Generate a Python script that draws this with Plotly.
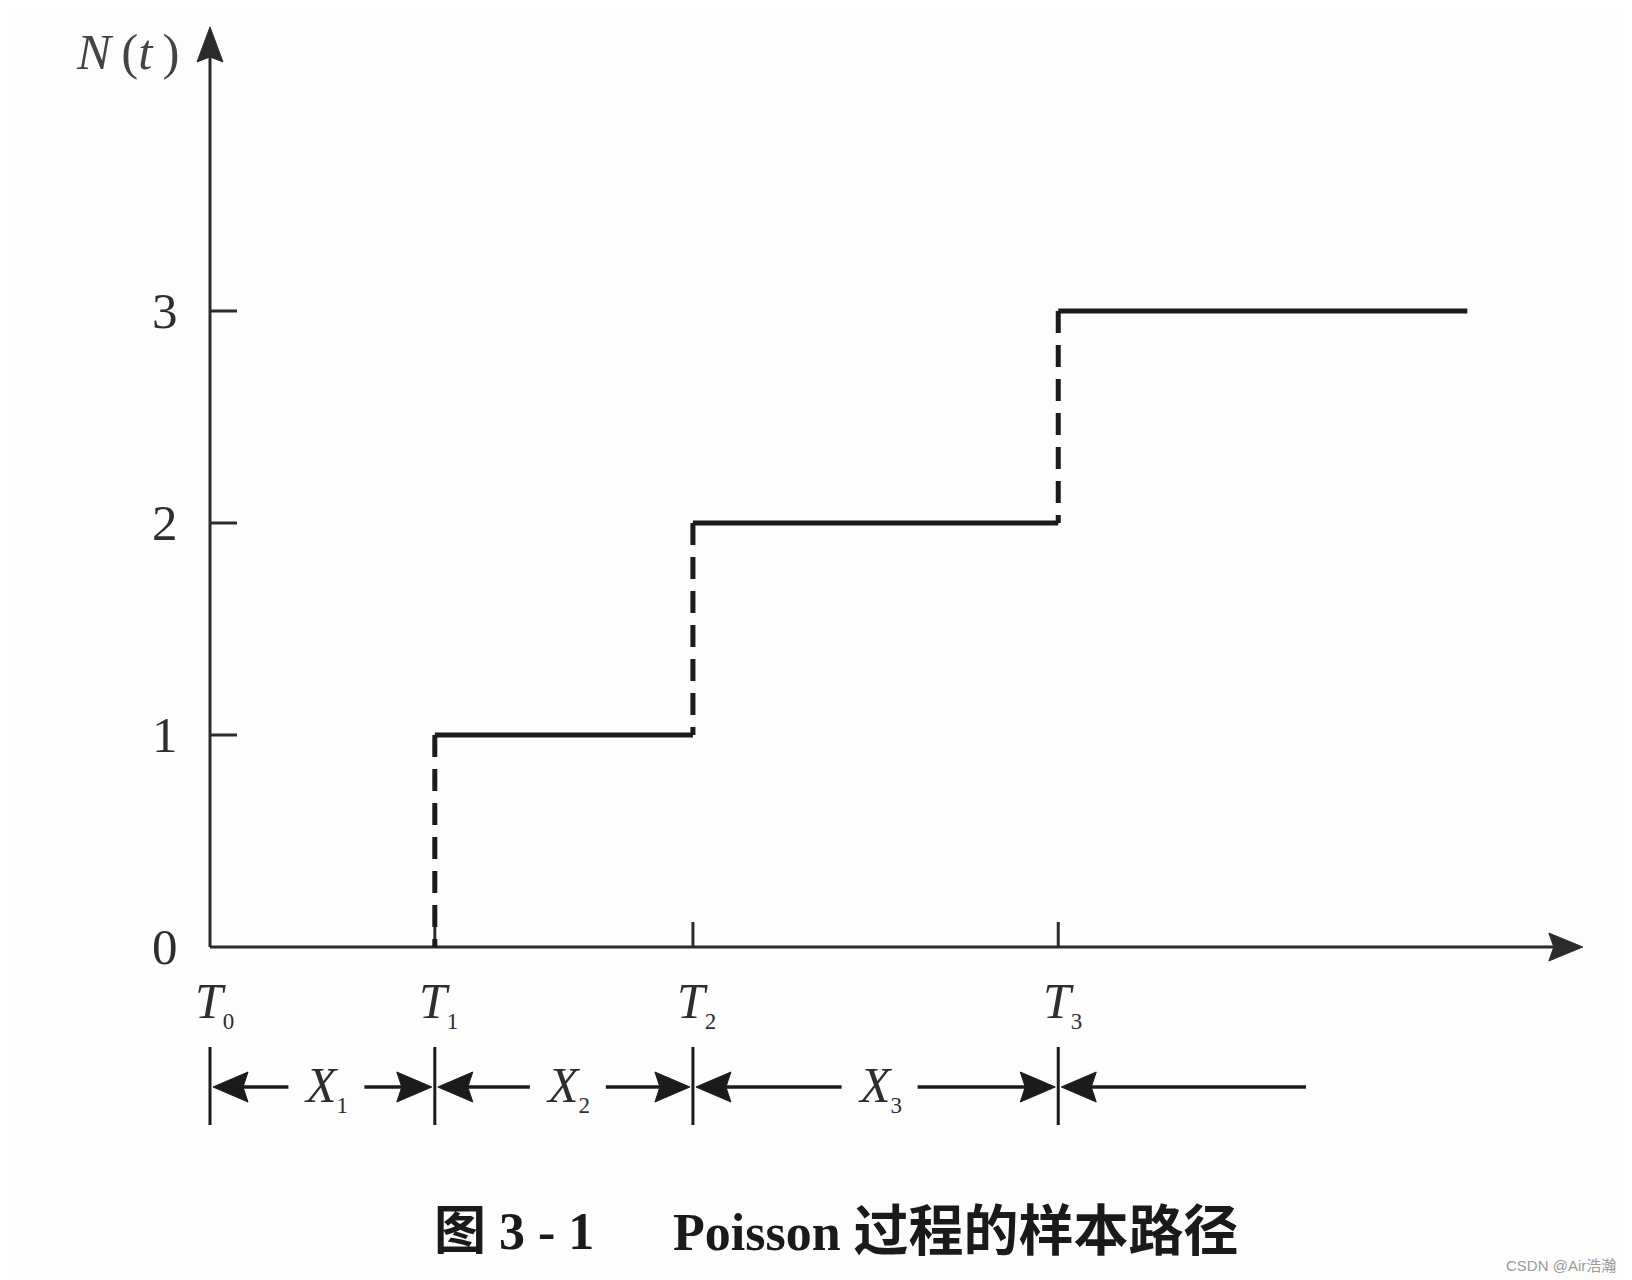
import plotly.graph_objects as go

# ---------------- data ----------------
event_times = [0.0, 2.16, 4.64, 8.15]      # T0, T1, T2, T3
counts = [0, 1, 2, 3]                       # N(t) right after each event
path_end = 12.08                            # where the sample path stops
x_axis_end = 13.19                          # tip of the time axis
y_axis_end = 4.34                           # tip of the N(t) axis
y_tick_values = [0, 1, 2, 3]
y_tick_labels = ["0", "1", "2", "3"]
event_subs = ["0", "1", "2", "3"]           # T subscripts
interval_subs = ["1", "2", "3"]             # X subscripts
tail_end = 10.53                            # open interval after T3

# ---------------- geometry (pixel <-> data) ----------------
W, H = 1632, 1280
OFF = 8.0                                   # page body margin
PX_X, X0_PX = 104.08, 210.0 - OFF
PX_Y, Y0_PX = 212.0, 947.0 - OFF
x_range = [-X0_PX / PX_X, (W - X0_PX) / PX_X]
y_range = [-(H - Y0_PX) / PX_Y, Y0_PX / PX_Y]


def dx(p):
    return p / PX_X


def dy(p):
    return p / PX_Y


def px_paper(px):
    return (px - OFF) / W


def py_paper(py):
    return 1 - (py - OFF) / H


INK = "#1b1b1b"
AXIS_INK = "#2b2b2b"
TEXT_INK = "#2e2e2e"
SERIF = "Liberation Serif, Noto Sans CJK SC"

fig = go.Figure()


def add_lines(xs, ys, width, color=INK, dash=None):
    fig.add_trace(go.Scatter(
        x=xs, y=ys, mode="lines",
        line=dict(color=color, width=width, dash=dash),
        hoverinfo="skip", showlegend=False))


def add_arrowhead(tx, ty, ux, uy, length=35, half=14, notch=5, color=INK):
    # ux, uy: unit direction in pixel space (uy>0 = up)
    px_, py_ = -uy, ux
    bx, by = -ux * length, -uy * length
    pts = [
        (0, 0),
        (bx + px_ * half, by + py_ * half),
        (-ux * (length - notch), -uy * (length - notch)),
        (bx - px_ * half, by - py_ * half),
        (0, 0),
    ]
    fig.add_trace(go.Scatter(
        x=[tx + dx(a) for a, b in pts], y=[ty + dy(b) for a, b in pts],
        mode="lines", fill="toself", fillcolor=color,
        line=dict(color=color, width=1),
        hoverinfo="skip", showlegend=False))


# ---- axes with arrows ----
add_lines([0, 0], [0, y_axis_end - dy(20)], 3, AXIS_INK)
add_arrowhead(0, y_axis_end, 0, 1, length=35, half=13, color=AXIS_INK)
add_lines([0, x_axis_end - dx(20)], [0, 0], 3.2, AXIS_INK)
add_arrowhead(x_axis_end, 0, 1, 0, length=34, half=14, color=AXIS_INK)

# y ticks
tx, ty = [], []
for v in y_tick_values[1:]:
    tx += [0, dx(27), None]
    ty += [v, v, None]
add_lines(tx, ty, 3, AXIS_INK)

# x ticks at event times (upward)
tx, ty = [], []
for t in event_times[1:]:
    tx += [t, t, None]
    ty += [0, dy(25), None]
add_lines(tx, ty, 3, AXIS_INK)

# ---- sample path ----
sx, sy = [], []
for i in range(1, len(event_times)):
    right = event_times[i + 1] if i + 1 < len(event_times) else path_end
    sx += [event_times[i], right, None]
    sy += [counts[i], counts[i], None]
add_lines(sx, sy, 5, INK)

for i in range(1, len(event_times)):
    add_lines([event_times[i], event_times[i]], [counts[i], counts[i - 1]],
              5, INK, dash="22px,12px")

# ---- interval brackets below the axis ----
row_y = dy(-140)
tick_top, tick_bot = dy(-100), dy(-178)
bx_, by_ = [], []
for t in event_times:
    bx_ += [t, t, None]
    by_ += [tick_top, tick_bot, None]
add_lines(bx_, by_, 3, INK)

gap_l, gap_r = dx(34), dx(42)
for i in range(len(interval_subs)):
    a, b = event_times[i], event_times[i + 1]
    mid = (a + b) / 2
    left_tip = a + dx(3)
    right_tip = b - dx(3)
    add_lines([left_tip + dx(20), mid - gap_l], [row_y, row_y], 3.5, INK)
    add_arrowhead(left_tip, row_y, -1, 0, length=35, half=15)
    add_lines([mid + gap_r, right_tip - dx(20)], [row_y, row_y], 3.5, INK)
    add_arrowhead(right_tip, row_y, 1, 0, length=35, half=15)

# tail after T3
t3 = event_times[-1]
add_lines([t3 + dx(23), tail_end], [row_y, row_y], 3.5, INK)
add_arrowhead(t3 + dx(3), row_y, -1, 0, length=35, half=15)

# ---------------- annotations ----------------
ann = []


def sub_label(letter, sub):
    return ("<i>%s</i><sub><span style='font-size:23px'>%s</span></sub>"
            % (letter, sub))


for v, lab in zip(y_tick_values, y_tick_labels):
    ann.append(dict(x=dx(-30), y=v, text=lab, xanchor="right", yanchor="middle",
                    showarrow=False, font=dict(family=SERIF, size=51, color=TEXT_INK)))

ann.append(dict(x=dx(-82), y=dy(895), text="<i>N</i>\u2009(<i>t</i>\u2009)",
                xanchor="center", yanchor="middle", showarrow=False,
                font=dict(family=SERIF, size=51, color="#444444")))

for t, s in zip(event_times, event_subs):
    ann.append(dict(x=t + dx(4), y=dy(-56), text=sub_label("T", s),
                    xanchor="center", yanchor="middle", showarrow=False,
                    font=dict(family=SERIF, size=50, color=TEXT_INK)))

for i, s in enumerate(interval_subs):
    mid = (event_times[i] + event_times[i + 1]) / 2
    ann.append(dict(x=mid + dx(4), y=row_y, text=sub_label("X", s),
                    xanchor="center", yanchor="middle", showarrow=False,
                    font=dict(family=SERIF, size=50, color=TEXT_INK)))

ann.append(dict(xref="paper", yref="paper", x=px_paper(514), y=py_paper(1231),
                text="<b>图 3 - 1</b>", xanchor="center", yanchor="middle",
                showarrow=False, font=dict(family=SERIF, size=52, color="#1a1a1a")))
ann.append(dict(xref="paper", yref="paper", x=px_paper(671), y=py_paper(1231),
                text="<b>Poisson <span style='font-size:55px'>过程的样本路径</span></b>",
                xanchor="left", yanchor="middle",
                showarrow=False, font=dict(family=SERIF, size=52, color="#1a1a1a")))
ann.append(dict(xref="paper", yref="paper", x=px_paper(1618), y=py_paper(1265),
                text="CSDN @Air浩瀚", xanchor="right", yanchor="middle",
                showarrow=False,
                font=dict(family="Liberation Sans, Noto Sans CJK SC", size=15, color="#9a9a9a")))

fig.update_layout(
    width=W, height=H, autosize=False,
    margin=dict(l=0, r=0, t=0, b=0, pad=0),
    paper_bgcolor="#fdfdfd", plot_bgcolor="#fdfdfd",
    xaxis=dict(range=x_range, visible=False, fixedrange=True),
    yaxis=dict(range=y_range, visible=False, fixedrange=True),
    annotations=ann,
    showlegend=False,
)

fig.write_html("out.html")
